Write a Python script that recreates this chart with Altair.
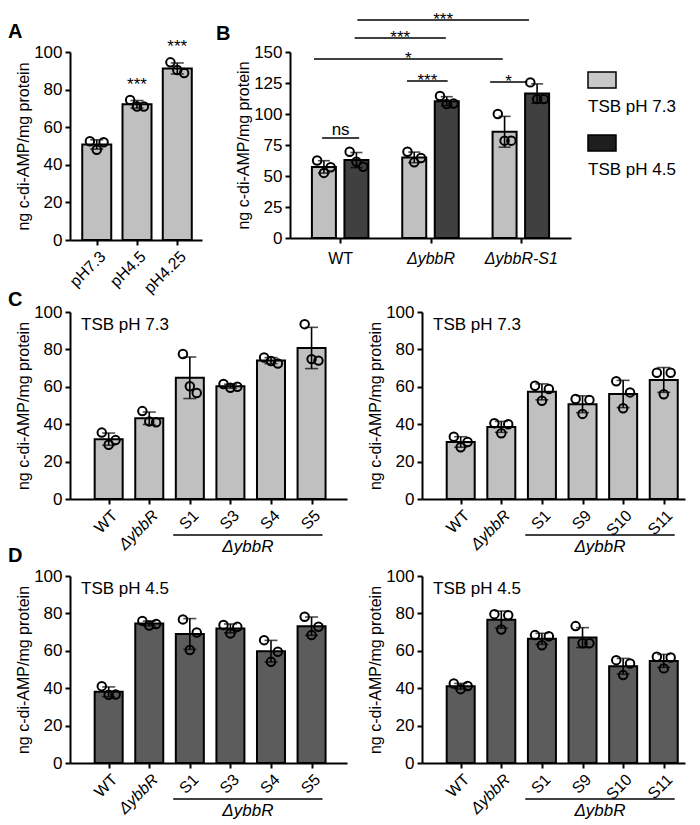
import json
import altair as alt
import pandas as pd

FONT = "Liberation Sans"
Y_TITLE = "ng c-di-AMP/mg protein"
LIGHT = "#c0c0c0"
DARK = "#404040"
MID = "#5c5c5c"
RECT_PATH = "M-1,-0.5714H1V0.5714H-1Z"

# ---------------- data ----------------
# Panel A
a_groups = ["pH7.3", "pH4.5", "pH4.25"]
a_reps = [[52.5, 52.0, 48.0], [74.5, 71.0, 71.0], [94.5, 88.8, 90.4]]
a_sig = ["", "***", "***"]

# Panel B
b_strains = ["WT", "ΔybbR", "ΔybbR-S1"]
b_conditions = ["TSB pH 7.3", "TSB pH 4.5"]
b_ph73 = [[62.5, 57.0, 52.5], [69.5, 64.5, 61.0], [100.0, 78.5, 78.5]]
b_ph45 = [[69.5, 57.5, 61.5], [114.5, 108.5, 108.0], [125.5, 112.0, 112.0]]
b_cmp_label = ["ns", "***", "*", "*", "***", "***"]
b_cmp_from = [-0.20, 0.74, 1.66, -0.29, 0.16, 0.19]
b_cmp_to = [0.21, 1.19, 2.07, 1.80, 1.17, 2.09]
b_cmp_y = [80.6, 126.6, 125.8, 144.4, 161.3, 175.8]
legend_colors = ["#c8c8c8", "#1e1e1e"]

# Panel C (TSB pH 7.3)
c1_groups = ["WT", "ΔybbR", "S1", "S3", "S4", "S5"]
c1_reps = [[35.5, 31.5, 29.0], [47.0, 41.0, 41.5], [77.5, 56.7, 60.3],
           [61.5, 60.0, 59.5], [75.7, 72.5, 73.8], [93.5, 74.0, 74.8]]
c2_groups = ["WT", "ΔybbR", "S1", "S9", "S10", "S11"]
c2_reps = [[33.3, 30.5, 27.7], [40.5, 40.0, 35.2], [60.6, 58.8, 52.5],
           [53.5, 53.0, 45.5], [63.0, 57.0, 48.5], [67.5, 67.5, 56.0]]
# Panel D (TSB pH 4.5)
d1_reps = [[41.1, 36.6, 36.5], [76.0, 74.3, 73.5], [76.8, 69.8, 60.4],
           [73.8, 72.8, 69.3], [65.7, 59.5, 54.1], [78.2, 72.9, 68.4]]
d2_reps = [[42.5, 41.2, 39.5], [79.6, 79.0, 71.4], [68.4, 67.8, 63.0],
           [73.2, 64.0, 64.0], [55.0, 53.2, 47.0], [56.8, 56.4, 50.6]]
c_title = "TSB pH 7.3"
d_title = "TSB pH 4.5"
group_label = "ΔybbR"

JIT = [-0.17, 0.17, 0.0]
JIT_B = [-0.075, 0.075, 0.0]


def rep_frame(groups, reps, jitter, sig=None):
    rows = []
    for i, (g, vals) in enumerate(zip(groups, reps)):
        for j, v in enumerate(vals):
            rows.append({"group": g, "pos": i, "px": i + jitter[j], "value": v,
                         "sig": sig[i] if sig else ""})
    return pd.DataFrame(rows)


def x_axis(labels, italic_test, angle, pad):
    return alt.Axis(values=list(range(len(labels))),
                    labelExpr=json.dumps(labels, ensure_ascii=False) + "[datum.value]",
                    labelAngle=angle, labelOverlap=False, labelFlush=False,
                    labelPadding=pad, labelFontSize=16,
                    labelFontStyle={"condition": {"test": italic_test, "value": "italic"},
                                    "value": "normal"})


def letter(t, dx, dy):
    return alt.Chart(pd.DataFrame({"t": [t]})).mark_text(
        align="left", baseline="alphabetic", fontSize=20, fontWeight="bold", color="black"
    ).encode(text="t:N", x=alt.value(dx), y=alt.value(dy))


def strain_panel(groups, reps, color, xdom, width, height, cond, let=None):
    df = rep_frame(groups, reps, JIT)
    xs = alt.Scale(domain=xdom, nice=False, zero=False)
    ys = alt.Scale(domain=[0, 100], nice=False)
    xa = x_axis(groups, "datum.value == 1", -45, 3)
    ya = alt.Axis(values=[0, 20, 40, 60, 80, 100])

    def X(f):
        return alt.X(f, scale=xs, axis=xa, title=None)

    def Y(f):
        return alt.Y(f, scale=ys, axis=ya, title=Y_TITLE)

    base = alt.Chart(df)
    bars = base.mark_bar(size=28, fill=color, stroke="black", strokeWidth=2).encode(
        x=X("pos:Q"), y=Y("mean(value):Q"))
    err = base.mark_errorbar(extent="stdev", orient="vertical", color="black", thickness=1.6,
                             ticks={"size": 13, "thickness": 1.6, "color": "black"}).encode(
        x=X("pos:Q"), y=Y("value:Q"))
    pts = base.mark_point(shape="circle", size=72, filled=False, stroke="black",
                          strokeWidth=2, opacity=1).encode(x=X("px:Q"), y=Y("value:Q"))
    s_idx = groups.index("S1")
    gdf = pd.DataFrame({"start": [s_idx - 0.41], "end": [len(groups) - 1 + 0.27],
                        "label": [group_label]})
    grule = alt.Chart(gdf).mark_rule(color="black", strokeWidth=1.5).encode(
        x=X("start:Q"), x2="end:Q", y=alt.value(height + 36))
    gtext = alt.Chart(gdf).transform_calculate(mid="(datum.start + datum.end) / 2").mark_text(
        fontSize=17, fontStyle="italic", baseline="middle", color="black").encode(
        x=X("mid:Q"), y=alt.value(height + 48), text="label:N")
    ctext = alt.Chart(pd.DataFrame({"t": [cond]})).mark_text(
        align="left", baseline="middle", fontSize=17, color="black").encode(
        text="t:N", x=alt.value(11), y=alt.value(13))
    layers = [bars, err, pts, grule, gtext, ctext]
    if let:
        layers.append(letter(*let))
    return alt.layer(*layers).properties(width=width, height=height)


# ---------- Panel A ----------
df_a = rep_frame(a_groups, a_reps, JIT, a_sig)
xs_a = alt.Scale(domain=[-0.54, 2.49], nice=False, zero=False)
ys_a = alt.Scale(domain=[0, 100], nice=False)
xa_a = x_axis(a_groups, "false", -45, 3)
ya_a = alt.Axis(values=[0, 20, 40, 60, 80, 100])


def XA(f):
    return alt.X(f, scale=xs_a, axis=xa_a, title=None)


def YA(f):
    return alt.Y(f, scale=ys_a, axis=ya_a, title=Y_TITLE)


base_a = alt.Chart(df_a)
panel_a = alt.layer(
    base_a.mark_bar(size=29, fill=LIGHT, stroke="black", strokeWidth=2).encode(
        x=XA("pos:Q"), y=YA("mean(value):Q")),
    base_a.mark_errorbar(extent="stdev", orient="vertical", color="black", thickness=1.6,
                         ticks={"size": 13, "thickness": 1.6, "color": "black"}).encode(
        x=XA("pos:Q"), y=YA("value:Q")),
    base_a.mark_point(shape="circle", size=72, filled=False, stroke="black",
                      strokeWidth=2, opacity=1).encode(x=XA("px:Q"), y=YA("value:Q")),
    base_a.mark_text(dy=-15, fontSize=17, color="black", baseline="middle").encode(
        x=XA("pos:Q"), y=YA("max(value):Q"), text="sig:N"),
    letter("A", -62, -14),
).properties(width=132, height=188)

# ---------- Panel B ----------
rows = []
for i, s in enumerate(b_strains):
    for k, (cond, reps) in enumerate(zip(b_conditions, [b_ph73, b_ph45])):
        pos = i + (-0.18 if k == 0 else 0.18)
        for j, v in enumerate(reps[i]):
            rows.append({"strain": s, "cond": cond, "pos": pos, "px": pos + JIT_B[j],
                         "value": v})
df_b = pd.DataFrame(rows)
df_cmp = pd.DataFrame({"label": b_cmp_label, "x1": b_cmp_from, "x2": b_cmp_to, "y": b_cmp_y})

xs_b = alt.Scale(domain=[-0.5, 2.5], nice=False, zero=False)
ys_b = alt.Scale(domain=[0, 150], nice=False)
xa_b = x_axis(b_strains, "datum.value >= 1", 0, 7)
ya_b = alt.Axis(values=[0, 25, 50, 75, 100, 125, 150])


def XB(f):
    return alt.X(f, scale=xs_b, axis=xa_b, title=None)


def YB(f):
    return alt.Y(f, scale=ys_b, axis=ya_b, title=Y_TITLE)


base_b = alt.Chart(df_b)
cmp_base = alt.Chart(df_cmp).transform_calculate(mid="(datum.x1 + datum.x2) / 2")
panel_b = alt.layer(
    base_b.mark_bar(size=24, stroke="black", strokeWidth=2).encode(
        x=XB("pos:Q"), y=YB("mean(value):Q"),
        fill=alt.Fill("cond:N", scale=alt.Scale(domain=b_conditions, range=[LIGHT, DARK]),
                      legend=None)),
    base_b.mark_errorbar(extent="stdev", orient="vertical", color="black", thickness=1.6,
                         ticks={"size": 12, "thickness": 1.6, "color": "black"}).encode(
        x=XB("pos:Q"), y=YB("value:Q")),
    base_b.mark_point(shape="circle", size=72, filled=False, stroke="black",
                      strokeWidth=2, opacity=1).encode(x=XB("px:Q"), y=YB("value:Q")),
    cmp_base.mark_rule(color="black", strokeWidth=1.5).encode(
        x=XB("x1:Q"), x2="x2:Q", y=YB("y:Q")),
    cmp_base.transform_filter("datum.label != 'ns'").mark_text(
        fontSize=17, baseline="alphabetic", dy=5, color="black").encode(
        x=XB("mid:Q"), y=YB("y:Q"), text="label:N"),
    cmp_base.transform_filter("datum.label == 'ns'").mark_text(
        fontSize=17, baseline="alphabetic", dy=-3, color="black").encode(
        x=XB("mid:Q"), y=YB("y:Q"), text="label:N"),
    letter("B", -74, -12),
).properties(width=281, height=186)

# ---------- legend panel ----------
df_leg = pd.DataFrame({"label": b_conditions})
leg_y = alt.Y("label:N", sort=b_conditions, axis=None, title=None,
              scale=alt.Scale(type="point", domain=b_conditions, range=[28, 91], padding=0))
legend_panel = alt.layer(
    alt.Chart(df_leg).mark_point(shape=RECT_PATH, size=784, filled=True, stroke="black",
                                 strokeWidth=1.5, opacity=1).encode(
        x=alt.value(14), y=leg_y,
        color=alt.Color("label:N", scale=alt.Scale(domain=b_conditions, range=legend_colors),
                        legend=None)),
    alt.Chart(df_leg).mark_text(align="left", baseline="middle", dy=27, fontSize=17,
                                color="black").encode(
        x=alt.value(0), y=leg_y, text="label:N"),
).properties(width=100, height=186)

# ---------- panels C, D ----------
panel_c1 = strain_panel(c1_groups, c1_reps, LIGHT, [-0.83, 5.75], 277, 187, c_title, ("C", -62, -6))
panel_c2 = strain_panel(c2_groups, c2_reps, LIGHT, [-0.83, 5.4], 263, 187, c_title)
panel_d1 = strain_panel(c1_groups, d1_reps, MID, [-0.83, 5.75], 277, 187, d_title, ("D", -62, -14))
panel_d2 = strain_panel(c2_groups, d2_reps, MID, [-0.83, 5.4], 263, 187, d_title)

row1 = alt.hconcat(panel_a, panel_b, legend_panel, spacing=14)
row2 = alt.hconcat(panel_c1, panel_c2, spacing=20)
row3 = alt.hconcat(panel_d1, panel_d2, spacing=20)
lower = alt.vconcat(row2, row3, spacing=-9)

chart = alt.vconcat(row1, lower, spacing=-6).properties(
    padding={"left": 0, "top": 3, "right": 0, "bottom": 0}, background="white"
).configure(font=FONT).configure_view(stroke=None).configure_axis(
    grid=False, domainColor="black", domainWidth=2, tickColor="black", tickWidth=2,
    tickSize=5, labelColor="black", labelFontSize=17, labelFont=FONT,
    titleFont=FONT, titleFontSize=16, titleFontWeight="normal", titleColor="black",
    titlePadding=2, labelPadding=3
)

chart.save("out.html", embed_options={"renderer": "svg", "actions": False})
